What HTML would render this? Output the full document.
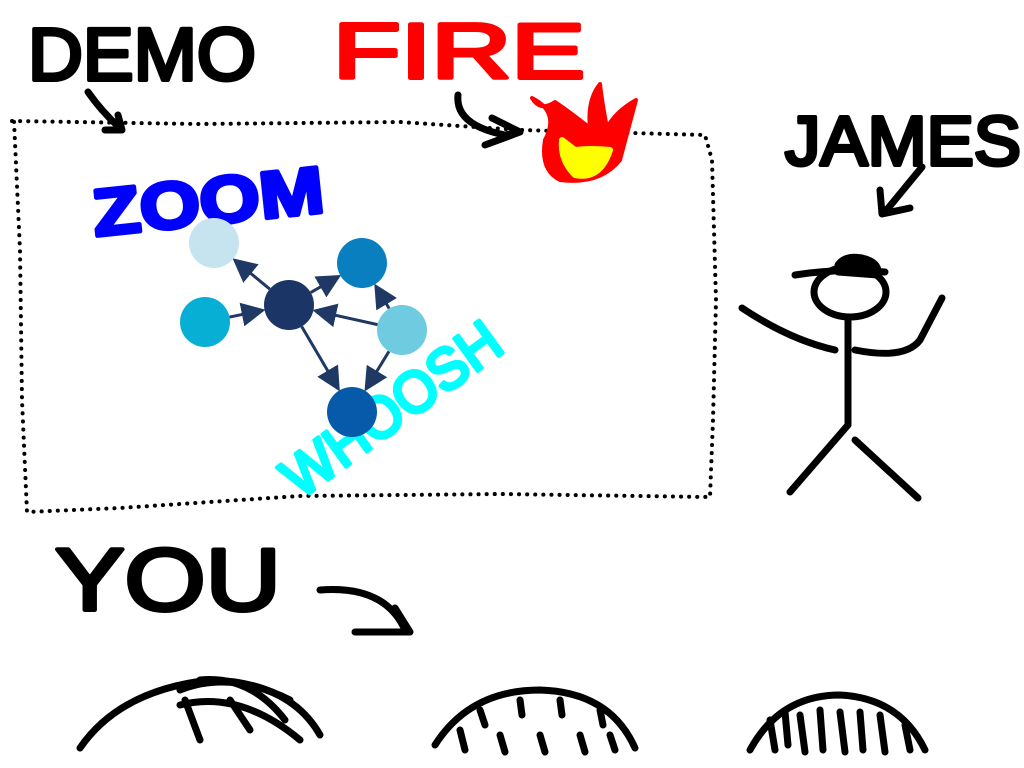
<!DOCTYPE html>
<html><head><meta charset="utf-8"><style>
html,body{margin:0;padding:0;background:#fff;width:1024px;height:768px;overflow:hidden}
svg{display:block}
text{font-family:"Liberation Sans",sans-serif;stroke-width:4;stroke-linejoin:round}
</style></head><body>
<svg id="s" width="1024" height="768" viewBox="0 0 1024 768">
<g fill="none" stroke-linecap="round" stroke-linejoin="round">
  <path d="M12,121 L200,124 L400,122 L520,130 L705,135 L712,160 L716,300 L713,420 L710,497 L500,494 L300,496 L120,508 L27,512 L22,400 L20,250 L14,121" stroke="#000" stroke-width="4" stroke-dasharray="0.1,8"/>
  <path d="M88,92 Q102,112 120,128 M105,130 L122,130 L118,115" stroke="#000" stroke-width="7"/>
  <path d="M458,95 Q455,125 505,135 L520,132 M492,118 L520,132 L485,145" stroke="#000" stroke-width="7"/>
  <path d="M922,167 L885,212 M880,190 L882,214 L910,208" stroke="#000" stroke-width="7"/>
  <path d="M320,590 Q385,585 405,630 M395,608 L410,632 L355,632" stroke="#000" stroke-width="7"/>
  <g stroke="#000" stroke-width="7">
    <ellipse cx="850" cy="292" rx="36" ry="25"/>
    <path d="M838,265 Q845,255 862,258 Q880,262 878,275 L838,272 Z" fill="#000"/>
    <path d="M795,275 Q840,268 885,272"/>
    <path d="M848,318 L848,425 M848,425 L790,492 M855,440 L918,498"/>
    <path d="M742,308 Q790,340 835,350 M855,350 Q905,360 920,340 L942,298"/>
  </g>
  <g stroke="#000" stroke-width="7">
    <path d="M80,748 Q120,690 210,680 Q290,682 320,735"/>
    <path d="M180,690 Q230,670 290,700 M180,705 Q240,690 300,740 M185,700 L200,740 M230,700 L250,730 M200,680 Q250,675 285,720"/>
    <path d="M435,745 Q470,690 540,690 Q610,692 635,748"/>
    <path d="M460,730 L465,750 M500,735 L505,752 M540,735 L545,752 M580,735 L585,752 M610,735 L615,750 M480,710 L485,725 M520,700 L522,715 M560,700 L562,715 M600,710 L603,725"/>
    <path d="M750,750 Q780,695 840,695 Q900,698 925,750"/>
    <path d="M770,720 L775,750 M800,715 L805,752 M840,712 L845,752 M880,715 L885,752 M905,725 L910,750 M785,712 L788,745 M820,710 L823,750 M860,712 L863,750"/>
  </g>
  <g>
    <path d="M532,98 Q560,112 545,140 Q540,170 560,180 Q600,185 620,160 Q628,130 636,100 Q615,112 607,128 Q602,102 600,84 Q587,100 590,128 Q570,112 555,102 Q540,112 532,98 Z" fill="#f00" stroke="#f00" stroke-width="4"/>
    <path d="M562,140 Q560,160 575,175 Q600,180 610,150 Q590,148 575,150 Z" fill="#ff0" stroke="#ff0" stroke-width="6"/>
  </g>
</g>
<text x="28" y="80" font-size="74" fill="#000" stroke="#000" textLength="228" lengthAdjust="spacingAndGlyphs">DEMO</text>
<text x="333" y="78" font-size="78" fill="#f00" stroke="#f00" textLength="252" lengthAdjust="spacingAndGlyphs">FIRE</text>
<text x="785" y="165" font-size="70" fill="#000" stroke="#000" textLength="236" lengthAdjust="spacingAndGlyphs">JAMES</text>
<text x="92" y="225" font-size="66" font-weight="bold" fill="#00f" stroke="#00f" textLength="232" lengthAdjust="spacingAndGlyphs" transform="rotate(-6 200 200)">ZOOM</text>
<text x="0" y="0" font-size="58" fill="#0ff" stroke="#0ff" textLength="255" lengthAdjust="spacingAndGlyphs" transform="translate(300,500) rotate(-36)">WHOOSH</text>
<text x="55" y="610" font-size="88" fill="#000" stroke="#000" textLength="226" lengthAdjust="spacingAndGlyphs">YOU</text>
<defs><marker id="ah" markerWidth="8" markerHeight="8" refX="7" refY="4" orient="auto"><path d="M0,0 L8,4 L0,8 Z" fill="#1f3864"/></marker></defs>
<g id="graph"></g>
</svg>
<script>
const nodeIds=['a','b','c','d','e','f'];
const nodeX=[214,362,205,289,402,352];
const nodeY=[243,263,322,305,330,412];
const nodeColors=['#c6e4ef','#0a7fbf','#06afd3','#1a3566','#6ecbe0','#065aa9'];
const edgeFrom=['d','d','c','e','e','d','e'];
const edgeTo=['a','b','d','d','b','f','f'];
const R=25,NS='http://www.w3.org/2000/svg';
const g=document.getElementById('graph');
function idx(id){return nodeIds.indexOf(id);}
for(let i=0;i<edgeFrom.length;i++){
  const a=idx(edgeFrom[i]),b=idx(edgeTo[i]);
  const dx=nodeX[b]-nodeX[a],dy=nodeY[b]-nodeY[a],L=Math.hypot(dx,dy);
  const l=document.createElementNS(NS,'line');
  l.setAttribute('x1',nodeX[a]+dx/L*R);l.setAttribute('y1',nodeY[a]+dy/L*R);
  l.setAttribute('x2',nodeX[b]-dx/L*(R+2));l.setAttribute('y2',nodeY[b]-dy/L*(R+2));
  l.setAttribute('stroke','#1f3864');l.setAttribute('stroke-width','3');
  l.setAttribute('marker-end','url(#ah)');
  
  
  g.appendChild(l);
}
for(let i=0;i<nodeIds.length;i++){
  const c=document.createElementNS(NS,'circle');
  c.setAttribute('cx',nodeX[i]);c.setAttribute('cy',nodeY[i]);c.setAttribute('r',R);
  c.setAttribute('fill',nodeColors[i]);
  
  
  g.appendChild(c);
}
</script>
</body></html>
